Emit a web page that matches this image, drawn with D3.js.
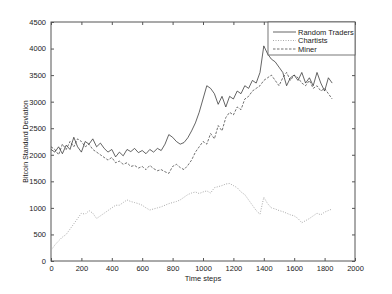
<!DOCTYPE html>
<html>
<head>
<meta charset="utf-8">
<script src="https://cdn.jsdelivr.net/npm/d3@7"></script>
<style>
  body { margin: 0; background: #fff; }
  svg { display: block; font-family: 'Liberation Sans', Arial, sans-serif; }
</style>
</head>
<body>
<svg id="chart" width="392" height="294"></svg>
<script>
const STEP = 25
const xTicks = [0, 200, 400, 600, 800, 1000, 1200, 1400, 1600, 1800, 2000]
const yTicks = [0, 500, 1000, 1500, 2000, 2500, 3000, 3500, 4000, 4500]

// sampled every 25 time steps, 0..1850
const randomTraders = [
  2100, 2050, 2150, 2020, 2180, 2100, 2330, 2150, 2050, 2250,
  2200, 2300, 2150, 2220, 2120, 2050, 2100, 1960, 2050, 1980,
  2100, 2060, 2120, 2040, 2080, 2020, 2100, 2050, 2120, 2080,
  2200, 2380, 2330, 2250, 2200, 2230, 2320, 2450, 2600, 2800,
  3050, 3300, 3250, 3150, 2950, 3100, 2900, 3100, 3050, 3200,
  3150, 3300, 3250, 3400, 3350, 3550, 4050, 3900, 3800, 3750,
  3650, 3550, 3300, 3450, 3500, 3400, 3550, 3350, 3450, 3300,
  3550, 3350, 3200, 3450, 3350
]
const miner = [
  2150, 2100, 2000, 2200, 2100, 2250, 2150, 2300, 2250, 2150,
  2200, 2100, 2050, 2000, 1950, 1900, 1950, 1850, 1880, 1820,
  1850, 1780, 1800, 1750, 1780, 1720, 1800, 1740, 1700, 1720,
  1680, 1650, 1780, 1820, 1760, 1720, 1800, 1900, 2050, 2150,
  2250, 2200, 2400, 2300, 2550, 2450, 2700, 2800, 2750, 2900,
  2850, 3050, 3100, 3200, 3250, 3300, 3400, 3450, 3500, 3400,
  3300, 3450, 3550, 3400, 3500, 3450, 3350, 3300, 3400, 3250,
  3300, 3200, 3250, 3150, 3050
]
const chartists = [
  200, 300, 380, 450, 500, 600, 700, 800, 900, 880,
  950, 900, 800, 850, 900, 950, 1000, 1050, 1050, 1100,
  1150, 1120, 1100, 1080, 1050, 1000, 960, 980, 1000, 1020,
  1050, 1080, 1100, 1120, 1150, 1200, 1250, 1280, 1300, 1270,
  1300, 1320, 1280, 1380, 1400, 1420, 1450, 1460, 1420, 1380,
  1300, 1250, 1150, 1050, 950, 880, 1200, 1080, 1000, 980,
  950, 930, 900, 870, 850, 800, 720, 760, 800, 850,
  900, 870, 920, 950, 980
]

const SERIES = [
  { name: 'Random Traders', values: randomTraders, color: '#222', dash: null, width: 0.7 },
  { name: 'Chartists', values: chartists, color: '#aaa', dash: '1,1.5', width: 1 },
  { name: 'Miner', values: miner, color: '#333', dash: '2.5,1.5', width: 0.7 },
]

const svg = d3.select('#chart')
const M = { left: 51, top: 22, right: 355, bottom: 261 }

const x = d3.scaleLinear().domain([0, 2000]).range([M.left, M.right])
const y = d3.scaleLinear().domain([0, 4500]).range([M.bottom, M.top])

const axisColor = '#555'
const tickLen = 3
const fmt = d3.format('d')

// frame
svg.append('rect')
  .attr('x', M.left).attr('y', M.top)
  .attr('width', M.right - M.left).attr('height', M.bottom - M.top)
  .attr('fill', 'none').attr('stroke', axisColor).attr('stroke-width', 1)

const styleAxis = g => {
  g.select('.domain').remove()
  g.selectAll('line').attr('stroke', axisColor)
  g.selectAll('text').attr('fill', '#222').attr('font-size', 7.5)
}

svg.append('g').attr('transform', `translate(0,${M.bottom})`)
  .call(d3.axisBottom(x).tickValues(xTicks).tickFormat(fmt).tickSizeInner(-tickLen).tickSizeOuter(0).tickPadding(5))
  .call(styleAxis)
svg.append('g').attr('transform', `translate(0,${M.top})`)
  .call(d3.axisTop(x).tickValues(xTicks).tickSizeInner(-tickLen).tickSizeOuter(0).tickFormat(''))
  .call(styleAxis)
svg.append('g').attr('transform', `translate(${M.left},0)`)
  .call(d3.axisLeft(y).tickValues(yTicks).tickFormat(fmt).tickSizeInner(-tickLen).tickSizeOuter(0).tickPadding(5))
  .call(styleAxis)
svg.append('g').attr('transform', `translate(${M.right},0)`)
  .call(d3.axisRight(y).tickValues(yTicks).tickSizeInner(-tickLen).tickSizeOuter(0).tickFormat(''))
  .call(styleAxis)

// axis labels
svg.append('text')
  .attr('x', (M.left + M.right) / 2).attr('y', 281)
  .attr('text-anchor', 'middle').attr('font-size', 7.5).attr('fill', '#222')
  .text('Time steps')
svg.append('text')
  .attr('transform', `translate(28,${(M.top + M.bottom) / 2}) rotate(-90)`)
  .attr('text-anchor', 'middle').attr('font-size', 7).attr('fill', '#222')
  .text('Bitcoin Standard Deviation')

// lines
const line = d3.line().x((d, i) => x(i * STEP)).y(d => y(d))
SERIES.forEach(s => {
  svg.append('path')
    .datum(s.values)
    .attr('d', line)
    .attr('fill', 'none')
    .attr('stroke', s.color)
    .attr('stroke-width', s.width)
    .attr('stroke-dasharray', s.dash)
})

// legend
const LEG = { x: 268, y: M.top, w: M.right - 268, h: 33 }
svg.append('rect')
  .attr('x', LEG.x).attr('y', LEG.y).attr('width', LEG.w).attr('height', LEG.h)
  .attr('fill', '#fff').attr('stroke', axisColor).attr('stroke-width', 0.8)
SERIES.forEach((s, i) => {
  const ly = LEG.y + 10 + i * 8.5
  svg.append('line')
    .attr('x1', LEG.x + 5).attr('x2', LEG.x + 28).attr('y1', ly).attr('y2', ly)
    .attr('stroke', s.color).attr('stroke-width', s.width).attr('stroke-dasharray', s.dash)
  svg.append('text')
    .attr('x', LEG.x + 30).attr('y', ly + 2.7)
    .attr('font-size', 7.5).attr('fill', '#222')
    .text(s.name)
})
</script>
</body>
</html>
